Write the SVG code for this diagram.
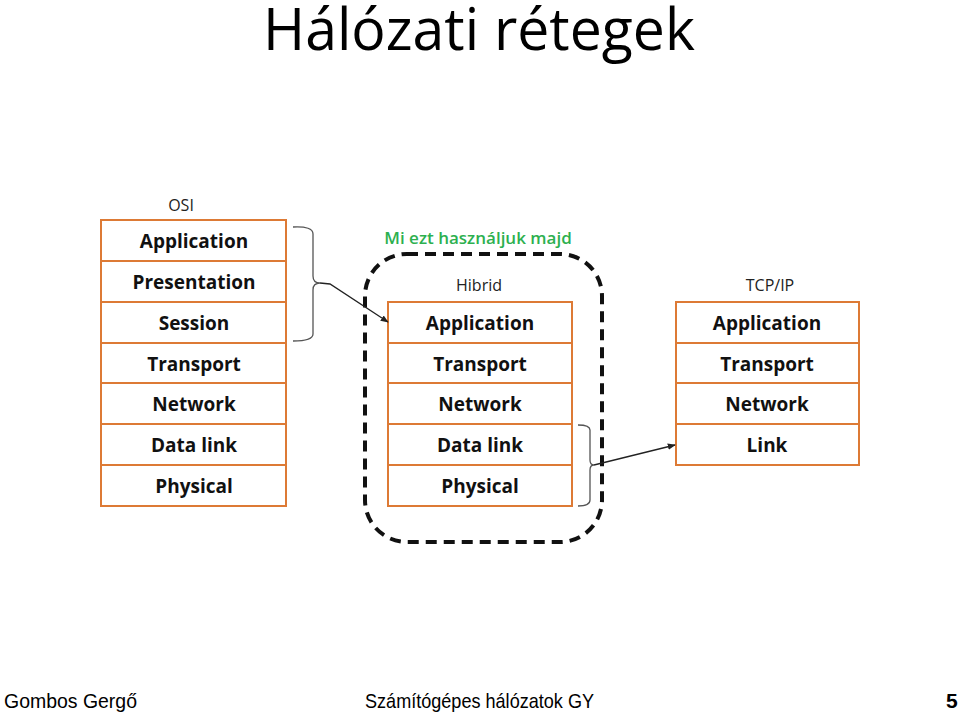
<svg xmlns="http://www.w3.org/2000/svg" width="959" height="713" viewBox="0 0 959 713">
<defs>
<style>
.cell{fill:#fff;stroke:#DD7A35;stroke-width:2}
.lbl{font-family:"Open Sans","Noto Sans",sans-serif;font-weight:bold;font-size:19px;fill:#111;text-anchor:middle}
.cap{font-family:"Open Sans","Noto Sans",sans-serif;font-size:16px;fill:#222;text-anchor:middle}
.foot{font-family:"Liberation Sans",Arial,sans-serif;font-size:21px;fill:#000}
.brace{fill:none;stroke:#555;stroke-width:1.3}
.arr{fill:none;stroke:#222;stroke-width:1.3;marker-end:url(#ah)}
</style>
<marker id="ah" viewBox="0 0 10 10" refX="9" refY="5" markerWidth="8" markerHeight="8" orient="auto" markerUnits="userSpaceOnUse">
<path d="M0,1 L10,5 L0,9 z" fill="#222"/>
</marker>
</defs>
<rect width="959" height="713" fill="#fff"/>
<text x="479" y="50" font-family="'Open Sans','Noto Sans',sans-serif" font-size="58" text-anchor="middle" textLength="432" lengthAdjust="spacingAndGlyphs" fill="#000">Hálózati rétegek</text>

<g id="osi">
<text class="cap" x="181" y="211">OSI</text>
<rect class="cell" x="101" y="220" width="185" height="41"/>
<rect class="cell" x="101" y="261" width="185" height="41"/>
<rect class="cell" x="101" y="302" width="185" height="41"/>
<rect class="cell" x="101" y="343" width="185" height="40"/>
<rect class="cell" x="101" y="383" width="185" height="41"/>
<rect class="cell" x="101" y="424" width="185" height="41"/>
<rect class="cell" x="101" y="465" width="185" height="41"/>
<text class="lbl" x="194" y="248">Application</text>
<text class="lbl" x="194" y="289">Presentation</text>
<text class="lbl" x="194" y="330">Session</text>
<text class="lbl" x="194" y="371">Transport</text>
<text class="lbl" x="194" y="411">Network</text>
<text class="lbl" x="194" y="452">Data link</text>
<text class="lbl" x="194" y="493">Physical</text>
</g>

<g id="hibrid">
<text x="478" y="244" font-family="'Open Sans','Noto Sans',sans-serif" font-size="17" font-weight="600" fill="#2DB04F" text-anchor="middle">Mi ezt használjuk majd</text>
<rect x="365" y="254" width="237" height="288" rx="42" ry="42" fill="none" stroke="#111" stroke-width="4" stroke-dasharray="11,7"/>
<text class="cap" x="479" y="291">Hibrid</text>
<rect class="cell" x="388" y="302" width="184" height="41"/>
<rect class="cell" x="388" y="343" width="184" height="40"/>
<rect class="cell" x="388" y="383" width="184" height="41"/>
<rect class="cell" x="388" y="424" width="184" height="41"/>
<rect class="cell" x="388" y="465" width="184" height="41"/>
<text class="lbl" x="480" y="330">Application</text>
<text class="lbl" x="480" y="371">Transport</text>
<text class="lbl" x="480" y="411">Network</text>
<text class="lbl" x="480" y="452">Data link</text>
<text class="lbl" x="480" y="493">Physical</text>
</g>

<g id="tcpip">
<text class="cap" x="770" y="291">TCP/IP</text>
<rect class="cell" x="676" y="302" width="183" height="41"/>
<rect class="cell" x="676" y="343" width="183" height="40"/>
<rect class="cell" x="676" y="383" width="183" height="41"/>
<rect class="cell" x="676" y="424" width="183" height="41"/>
<text class="lbl" x="767" y="330">Application</text>
<text class="lbl" x="767" y="371">Transport</text>
<text class="lbl" x="767" y="411">Network</text>
<text class="lbl" x="767" y="452">Link</text>
</g>

<g id="connectors">
<path class="brace" d="M293,227 Q313,226 313,234 L313,276 Q313,283 320,283 Q313,283 313,290 L313,334 Q313,341 293,341"/>
<path class="arr" d="M320,283 L330,284 L388,322"/>
<path class="brace" d="M578,425 Q590,425 590,430 L590,460 Q590,465 594,465 Q590,465 590,470 L590,500 Q590,506 578,506"/>
<path class="arr" d="M594,465 L675,445"/>
</g>

<g id="footer">
<text class="foot" x="4" y="708" textLength="133" lengthAdjust="spacingAndGlyphs">Gombos Gergő</text>
<text class="foot" x="365" y="708" textLength="229" lengthAdjust="spacingAndGlyphs">Számítógépes hálózatok GY</text>
<text class="foot" x="946" y="708" font-weight="bold">5</text>
</g>
</svg>
